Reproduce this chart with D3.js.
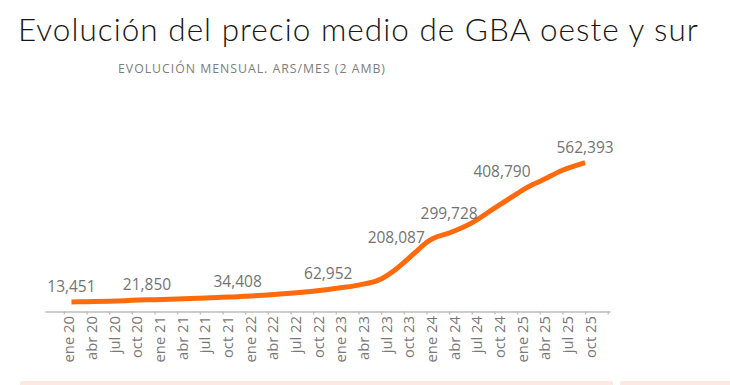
<!DOCTYPE html>
<html>
<head>
<meta charset="utf-8">
<script src="https://cdn.jsdelivr.net/npm/d3@7"></script>
<style>
  body { margin: 0; background: #fff; }
  svg { display: block; }
</style>
</head>
<body>
<div id="chart"></div>
<script>
var width = 730,
  height = 385;

var titulo = "Evolución del precio medio de GBA oeste y sur";
var subtitulo = "EVOLUCIÓN MENSUAL. ARS/MES (2 AMB)";

var meses = ["ene", "feb", "mar", "abr", "may", "jun", "jul", "ago", "sep", "oct", "nov", "dic"];

// etiquetas del eje (trimestrales)
var tickLabels = ["ene 20", "abr 20", "jul 20", "oct 20", "ene 21", "abr 21", "jul 21", "oct 21",
  "ene 22", "abr 22", "jul 22", "oct 22", "ene 23", "abr 23", "jul 23", "oct 23",
  "ene 24", "abr 24", "jul 24", "oct 24", "ene 25", "abr 25", "jul 25", "oct 25", "ene 26"];

// serie
var serieMes = ["feb 20", "abr 20", "jul 20", "oct 20", "dic 20", "ene 21", "abr 21", "jul 21",
  "oct 21", "dic 21", "ene 22", "abr 22", "jul 22", "oct 22", "dic 22", "ene 23", "abr 23",
  "jul 23", "sep 23", "oct 23", "nov 23", "dic 23", "ene 24", "feb 24", "abr 24", "jul 24",
  "oct 24", "ene 25", "feb 25", "mar 25", "abr 25", "jul 25", "oct 25"];
var serieValor = [13451, 14500, 16500, 19800, 21850, 22600, 25300, 28500,
  32200, 34408, 36000, 41000, 47500, 56000, 62952, 67000, 80000,
  104000, 143000, 168000, 195000, 222000, 248000, 265000, 285000, 325000,
  383000, 440000, 459000, 475000, 488000, 532000, 562393];

// valores rotulados
var rotuloMes = ["feb 20", "dic 20", "dic 21", "dic 22", "sep 23", "abr 24", "nov 24", "oct 25"];
var rotuloValor = [13451, 21850, 34408, 62952, 208087, 299728, 408790, 562393];

// indice de mes desde ene 20
function mesIndex(s) {
  var p = s.split(" ");
  return (+p[1] - 20) * 12 + meses.indexOf(p[0]);
}

var data = serieMes.map(function(m, i) {
  return { m: mesIndex(m), v: serieValor[i] };
});

var svg = d3.select("#chart").append("svg")
  .attr("width", width)
  .attr("height", height);

svg.append("rect").attr("width", width).attr("height", height).attr("fill", "#fff");

var x = d3.scaleLinear()
  .domain([-2.5, 72.3])
  .range([45, 610]);

var y = d3.scaleLinear()
  .domain([0, 600000])
  .range([305.4, 153]);

// titulo y subtitulo, ajustados al ancho del original
function fitText(sel, target) {
  var len = sel.node().getComputedTextLength();
  var n = sel.text().length;
  sel.attr("letter-spacing", ((target - len) / (n - 1)).toFixed(3) + "px");
}

var t = svg.append("text")
  .attr("x", 18)
  .attr("y", 40.7)
  .style("font-family", "Lato, 'Open Sans', sans-serif")
  .style("font-weight", 300)
  .style("font-size", "31.5px")
  .attr("fill", "#161616")
  .text(titulo);
fitText(t, 680);

var st = svg.append("text")
  .attr("x", 118)
  .attr("y", 73.3)
  .style("font-family", "'Open Sans', sans-serif")
  .style("font-size", "12.3px")
  .attr("fill", "#7d7d7d")
  .text(subtitulo);
fitText(st, 267);

// eje x
var xAxis = d3.axisBottom(x)
  .tickValues(tickLabels.map(mesIndex))
  .tickSize(3)
  .tickSizeOuter(0)
  .tickFormat(function(d) {
    var lab = tickLabels[d / 3];
    return lab === "ene 26" ? "" : lab;
  });

var gx = svg.append("g")
  .attr("transform", "translate(0,311.5)")
  .call(xAxis);

gx.select(".domain").attr("stroke", "#bdbdbd").attr("stroke-width", 1.6);
gx.selectAll(".tick line").attr("stroke", "#bdbdbd").attr("stroke-width", 1.4);
gx.selectAll(".tick text")
  .attr("transform", "rotate(-90)")
  .attr("text-anchor", "end")
  .attr("x", -4.5)
  .attr("y", 10)
  .attr("dy", null)
  .attr("fill", "#787878")
  .style("font-family", "'Open Sans', sans-serif")
  .style("font-size", "14.8px");

// linea
var line = d3.line()
  .curve(d3.curveMonotoneX)
  .x(function(d) { return x(d.m); })
  .y(function(d) { return y(d.v); });

svg.append("path")
  .datum(data)
  .attr("d", line)
  .attr("fill", "none")
  .attr("stroke", "#ff6a0d")
  .attr("stroke-width", 5)
  .attr("stroke-linejoin", "round");

// rotulos (el de nov 24 va mas arriba para no pisar la linea)
svg.selectAll(".rotulo")
  .data(rotuloMes)
  .enter().append("text")
  .attr("class", "rotulo")
  .attr("x", function(d) { return x(mesIndex(d)); })
  .attr("y", function(d, i) { return y(rotuloValor[i]) - (d === "nov 24" ? 24.6 : 10); })
  .attr("text-anchor", "middle")
  .attr("fill", "#737373")
  .style("font-family", "'Open Sans', sans-serif")
  .style("font-size", "15.5px")
  .text(function(d, i) { return d3.format(",")(rotuloValor[i]); });

// franja inferior
svg.append("rect")
  .attr("x", 20).attr("y", 381).attr("width", 593).attr("height", 6).attr("rx", 2)
  .attr("fill", "#fde9e1");
svg.append("rect")
  .attr("x", 620).attr("y", 381).attr("width", 112).attr("height", 6).attr("rx", 2)
  .attr("fill", "#fde9e1");
</script>
</body>
</html>
